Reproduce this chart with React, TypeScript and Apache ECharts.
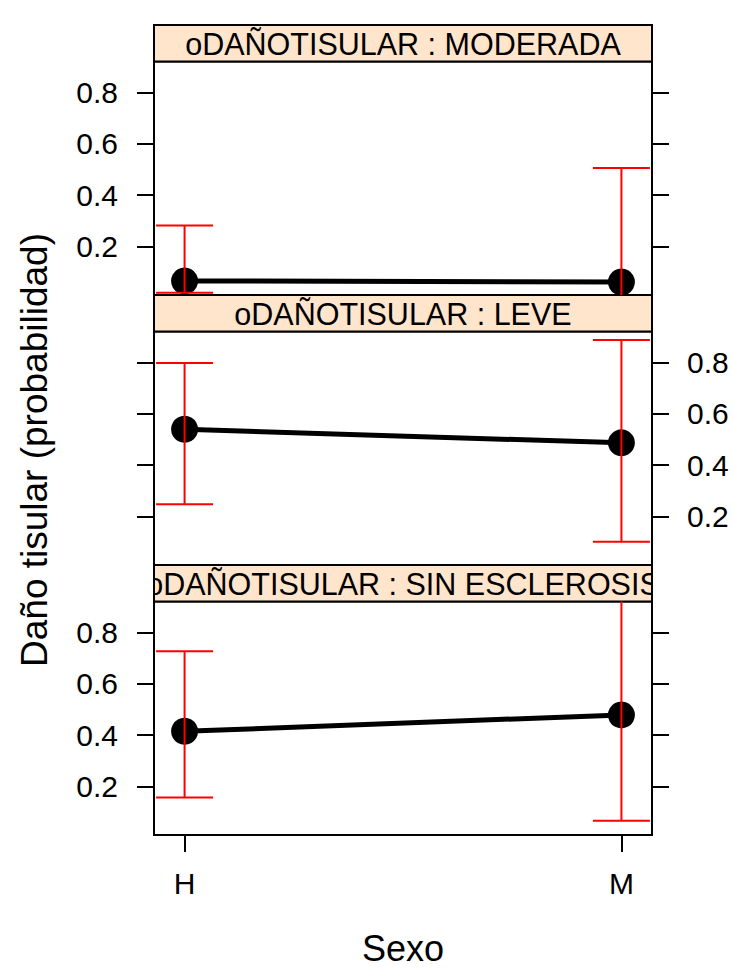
import React, { useEffect, useRef } from "react";
import * as echarts from "echarts";

// ---- data ----
const categories = ["H", "M"];
const levels = ["MODERADA", "LEVE", "SIN ESCLEROSIS"];
const stripPrefix = "oDAÑOTISULAR : ";
const fitModerada = [0.065, 0.061];
const lowerModerada = [0.019, 0.005];
const upperModerada = [0.281, 0.506];
const fitLeve = [0.54, 0.487];
const lowerLeve = [0.247, 0.101];
const upperLeve = [0.799, 0.889];
const fitSin = [0.415, 0.479];
const lowerSin = [0.156, 0.066];
const upperSin = [0.728, 0.95];
const yTicks = [0.2, 0.4, 0.6, 0.8];
const xTicks = [1, 2];
const yTitle = "Daño tisular (probabilidad)";
const xTitle = "Sexo";

const FONT = '"Liberation Sans", Arial, Helvetica, sans-serif';

export default function App() {
  const ref = useRef<HTMLDivElement>(null);
  useEffect(() => {
    if (!ref.current) return;
    const chart = echarts.init(ref.current, undefined, { renderer: "svg" });

    const fits = [fitModerada, fitLeve, fitSin];
    const lows = [lowerModerada, lowerLeve, lowerSin];
    const ups = [upperModerada, upperLeve, upperSin];

    const left = 154;
    const right = 81;
    const top0 = 25;
    const block = 270;
    const stripH = 36.5;
    const xmin = 0.93;
    const xmax = 2.07;
    const ymin = 0.01;
    const ymax = 0.922;

    const grids: any[] = [];
    const xAxes: any[] = [];
    const yAxes: any[] = [];
    const series: any[] = [];

    const tickStyle = { color: "#000", width: 2 };
    const labelStyle = { color: "#000", fontSize: 30, fontFamily: FONT };

    for (let i = 0; i < 3; i++) {
      const t = top0 + block * i;
      grids.push({
        left,
        right,
        top: t + stripH,
        height: block - stripH,
        show: true,
        backgroundColor: "#fff",
        borderColor: "#000",
        borderWidth: 2,
      });
    }
    for (let i = 0; i < 3; i++) {
      const t = top0 + block * i;
      grids.push({
        left,
        right,
        top: t,
        height: stripH,
        show: true,
        backgroundColor: "#ffe5cc",
        borderColor: "#000",
        borderWidth: 2,
        z: 3,
      });
    }

    for (let i = 0; i < 3; i++) {
      const isBottom = i === 2;
      xAxes.push({
        type: "value",
        gridIndex: i,
        min: xmin,
        max: xmax,
        position: "bottom",
        axisLine: { show: false },
        splitLine: { show: false },
        axisTick: {
          show: isBottom,
          customValues: xTicks,
          length: 17,
          lineStyle: tickStyle,
        },
        axisLabel: {
          show: isBottom,
          customValues: xTicks,
          margin: 33,
          formatter: (v: number) => categories[Math.round(v) - 1] ?? "",
          ...labelStyle,
        },
      });
    }
    for (let i = 0; i < 3; i++) {
      const isTop = i === 0;
      xAxes.push({
        type: "value",
        gridIndex: 3 + i,
        min: xmin,
        max: xmax,
        position: "top",
        axisLine: { show: false },
        splitLine: { show: false },
        axisTick: {
          show: isTop,
          customValues: xTicks,
          length: 17,
          lineStyle: tickStyle,
        },
        axisLabel: { show: false },
      });
    }

    for (let i = 0; i < 3; i++) {
      const leftLabels = i !== 1;
      yAxes.push({
        type: "value",
        gridIndex: i,
        position: "left",
        min: ymin,
        max: ymax,
        axisLine: { show: false },
        splitLine: { show: false },
        axisTick: {
          show: true,
          customValues: yTicks,
          length: 17,
          lineStyle: tickStyle,
        },
        axisLabel: {
          show: leftLabels,
          customValues: yTicks,
          margin: 36,
          formatter: (v: number) => v.toFixed(1),
          ...labelStyle,
        },
      });
      yAxes.push({
        type: "value",
        gridIndex: i,
        position: "right",
        min: ymin,
        max: ymax,
        axisLine: { show: false },
        splitLine: { show: false },
        axisTick: {
          show: true,
          customValues: yTicks,
          length: 17,
          lineStyle: tickStyle,
        },
        axisLabel: {
          show: !leftLabels,
          customValues: yTicks,
          margin: 35,
          formatter: (v: number) => v.toFixed(1),
          ...labelStyle,
        },
      });
    }
    for (let i = 0; i < 3; i++) {
      yAxes.push({
        type: "value",
        gridIndex: 3 + i,
        min: 0,
        max: 1,
        show: false,
      });
    }

    for (let i = 0; i < 3; i++) {
      const pts = categories.map((_, k) => [k + 1, fits[i][k]]);
      series.push({
        type: "line",
        xAxisIndex: i,
        yAxisIndex: 2 * i,
        data: pts,
        symbol: "circle",
        symbolSize: 27,
        itemStyle: { color: "#000" },
        lineStyle: { color: "#000", width: 5 },
        clip: true,
        z: 2,
        silent: true,
      });
      const eb = categories.map((_, k) => [k + 1, lows[i][k], ups[i][k]]);
      series.push({
        type: "custom",
        xAxisIndex: i,
        yAxisIndex: 2 * i,
        data: eb,
        clip: true,
        z: 4,
        silent: true,
        renderItem: (params: any, api: any) => {
          const x = api.value(0);
          const pLo = api.coord([x, api.value(1)]);
          const pHi = api.coord([x, api.value(2)]);
          const hw = 28.5;
          const style = { stroke: "#ff0000", lineWidth: 2 };
          return {
            type: "group",
            children: [
              { type: "line", shape: { x1: pLo[0], y1: pLo[1], x2: pHi[0], y2: pHi[1] }, style },
              { type: "line", shape: { x1: pLo[0] - hw, y1: pLo[1], x2: pLo[0] + hw, y2: pLo[1] }, style },
              { type: "line", shape: { x1: pHi[0] - hw, y1: pHi[1], x2: pHi[0] + hw, y2: pHi[1] }, style },
            ],
          };
        },
      });
      series.push({
        type: "custom",
        xAxisIndex: 3 + i,
        yAxisIndex: 6 + i,
        data: [[1.5, 0.5]],
        clip: true,
        z: 5,
        silent: true,
        renderItem: (params: any) => {
          const cs = params.coordSys;
          return {
            type: "text",
            x: cs.x + cs.width / 2,
            y: cs.y + cs.height / 2 + 1,
            style: {
              text: stripPrefix + levels[i],
              fill: "#000",
              fontSize: 30.5,
              fontFamily: FONT,
              align: "center",
              verticalAlign: "middle",
            },
          };
        },
      });
    }

    chart.setOption({
      animation: false,
      backgroundColor: "#fff",
      grid: grids,
      xAxis: xAxes,
      yAxis: yAxes,
      series,
      graphic: [
        {
          type: "text",
          x: 34,
          y: 450,
          rotation: Math.PI / 2,
          style: {
            text: yTitle,
            fill: "#000",
            fontSize: 37,
            fontFamily: FONT,
            align: "center",
            verticalAlign: "middle",
          },
        },
        {
          type: "text",
          x: 403,
          y: 948,
          style: {
            text: xTitle,
            fill: "#000",
            fontSize: 36,
            fontFamily: FONT,
            align: "center",
            verticalAlign: "middle",
          },
        },
      ],
    });

    return () => chart.dispose();
  }, []);

  return (
    <div
      ref={ref}
      style={{ position: "absolute", left: 0, top: 0, width: 733, height: 971 }}
    />
  );
}
